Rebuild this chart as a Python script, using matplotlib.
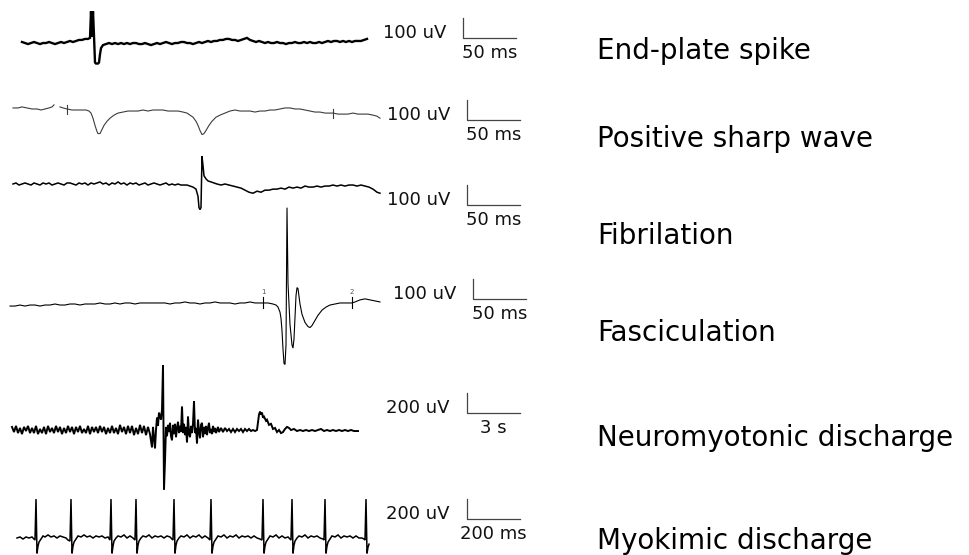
import numpy as np
import matplotlib.pyplot as plt

# sweep samples (1 sample = 1 px of the original sweep) and amplitude in uV

# End-plate spike
endplate_idx = [0, 3, 6, 9, 12, 15, 18, 21, 24, 27, 30, 33, 36, 39, 42, 45, 48, 51, 54, 57, 60, 63, 66, 68,
                69, 70, 71, 72, 73, 74, 76, 77, 78, 79, 81, 84, 87,
                90, 93, 96, 99, 102, 105, 108, 111, 114, 117, 120, 123, 126, 129, 132, 135, 138, 141, 144, 147,
                150, 153, 156, 159, 162, 165, 168, 171, 174, 177, 180, 183, 186, 189, 192, 195, 198, 201, 204, 207,
                210, 213, 216, 219, 222, 225, 228, 231, 234, 237, 240, 243, 246, 249, 252, 255, 258, 261, 264, 267,
                270, 273, 276, 279, 282, 285, 288, 291, 294, 297, 300, 303, 306, 309, 312, 315, 318, 321, 324, 327,
                330, 333, 336, 339, 342, 345]
endplate_uv = [0, -5, -10, -5, 0, -5, -10, -5, -5, 0, -5, -10, -5, 0, -5, 0, 5, 0, 5, 10, 10, 15, 15, 20,
               150, 25, 150, 30, -100, -105, -105, -100, -60, -30, -15, -10, -5,
               -10, -5, -10, -5, -10, -5, -10, -5, -5, -10, -10, -5, -10, -15, -10, -5, -10, -5, 0, -5,
               -10, -5, -5, 0, 0, -5, -5, -10, -5, 0, -5, 0, 5, 0, 5, 5, 10, 10, 15, 15,
               10, 10, 5, 10, 15, 20, 10, 5, 0, 5, 0, -5, 0, -5, -5, 0, -5, -5, -10, -5,
               -5, 0, -5, -5, 0, -5, 0, -5, -5, 0, -5, 0, 5, 0, 5, 5, 0, 5, 0, 5,
               0, 5, 5, 5, 10, 15]

# Positive sharp wave (nan = gap in the sweep)
sharp_idx = [0, 5, 9, 14, 19, 24, 28, 32, 36, 39, 41, 44, 47, 50, 54, 59, 64, 69, 73, 76,
             78, 80, 82, 84, 85, 87, 89, 91, 94, 97, 101, 105, 110, 115, 120, 125, 130, 135, 140, 145,
             150, 155, 160, 165, 170, 174, 177, 180, 183, 185, 187, 189, 191, 193, 196, 199, 203, 207, 212, 217,
             222, 227, 232, 237, 242, 247, 252, 257, 262, 267, 272, 277, 282, 287, 292, 297, 302, 307, 312, 317,
             320, 325, 330, 335, 340, 345, 350, 355, 360, 364, 367]
sharp_uv = [10, 10, 15, 10, 5, 5, 0, 5, 10, 15, 25, np.nan, 15, 10, 5, 0, 0, 0, 0, -5,
            -15, -40, -75, -105, -115, -115, -95, -75, -55, -40, -25, -15, -10, -5, -5, -5, 0, -5, 0, 0,
            0, -5, -5, -5, -10, -15, -25, -35, -55, -75, -100, -120, -115, -100, -75, -55, -35, -25, -15, -5,
            0, -5, -5, -5, -10, -5, -5, 0, 0, 5, 10, 10, 5, 5, 0, -5, -10, -10, -15, -15,
            -15, -20, -20, -20, -15, -20, -20, -20, -25, -30, -40]
sharp_marks = [54, 320]

# Fibrilation
fib_idx = [0, 3, 6, 9, 12, 15, 18, 21, 24, 27, 30, 33, 36, 39, 42, 45, 48, 51, 54, 57,
           60, 63, 66, 69, 72, 75, 78, 81, 84, 87, 90, 93, 96, 99, 102, 105, 108, 111, 114, 117,
           120, 123, 126, 129, 132, 135, 138, 141, 144, 147, 150, 153, 156, 159, 162, 165, 168, 171, 174, 177, 180,
           183, 185, 186, 187, 188, 189, 190, 191, 193, 195, 198, 201, 204,
           208, 212, 216, 220, 224, 228, 232, 236, 240, 244, 248, 252, 256, 260, 264, 268, 272, 276, 280, 284,
           288, 292, 296, 300, 304, 308, 312, 316, 320, 324, 328, 332, 336, 340, 344, 348, 352, 356, 360, 364, 367]
fib_uv = [0, 5, -5, 0, 5, 0, -5, 5, 0, -5, 5, 0, 5, -5, 0, 5, 0, -5, 5, 5,
          0, -5, 5, 0, 5, -5, 5, 0, 5, 10, 0, 5, -5, 5, 0, 10, 0, 5, -5, 5,
          0, 5, -5, 0, 5, -5, 0, 5, 0, -5, 0, 5, -5, 0, -5, 0, -5, -5, -5, -10, -15,
          -25, -60, -115, -125, -115, 135, 90, 40, 25, 15, 10, 5, 0,
          -5, 0, -5, -10, -15, -20, -30, -40, -45, -35, -40, -30, -30, -25, -25, -20, -25, -15, -20, -15,
          -20, -10, -15, -15, -10, -15, -10, -10, -5, -10, -5, -10, -5, -5, -10, -5, -10, -15, -25, -40, -45]

# Fasciculation
fasc_idx = [0, 5, 10, 15, 20, 25, 30, 35, 40, 45, 50, 55, 60, 65, 70, 75, 80, 85, 90, 95,
            100, 105, 110, 115, 120, 125, 130, 135, 140, 145, 150, 155, 160, 165, 170, 175, 180, 185, 190, 195,
            200, 205, 210, 215, 220, 225, 230, 235, 240, 245, 250,
            253, 258, 263, 266, 268, 270, 271, 272, 273, 274, 275, 276, 277, 278, 280, 282, 283, 284, 286, 287,
            288, 290, 292, 295, 298, 300, 302, 305, 308, 312, 316, 320, 325, 330, 335, 340, 342, 345, 350, 355,
            360, 365, 370]
fasc_uv = [-10, -10, -5, -10, -5, -5, -10, -5, -5, 0, -5, -5, 0, 0, -5, 0, 0, 0, 5, 0,
           0, 5, 0, 5, 5, 0, 5, 5, 5, 5, 5, 5, 0, 5, 5, 10, 5, 5, 0, 5,
           5, 10, 5, 5, 5, 0, 5, 5, 10, 5, 5,
           5, 5, 0, -5, -15, -40, -70, -130, -220, -290, -295, -200, 470, 100, -100, -200, -215, -170, 40, 80,
           75, 0, -50, -90, -110, -115, -105, -80, -55, -30, -15, -5, 0, 5, 5, 5, 5, 10, 20, 25,
           20, 15, 10]
fasc_marks = [253, 342]
fasc_mark_labels = ['1', '2']

# Neuromyotonic discharge
neuro_idx = [0, 2, 4, 6, 8, 10, 12, 14, 16, 18, 20, 22, 24, 26, 28, 30, 32, 34, 36, 38,
             40, 42, 44, 46, 48, 50, 52, 54, 56, 58, 60, 62, 64, 66, 68, 70, 72, 74, 76, 78,
             80, 82, 84, 86, 88, 90, 92, 94, 96, 98, 100, 102, 104, 106, 108, 110, 112, 114, 116, 118,
             120, 122, 124, 126, 128, 130, 132, 134, 136, 138,
             140, 141, 143, 144, 145, 146, 147, 149, 150, 151, 152, 153, 154, 155, 156, 157, 158, 159, 160, 161,
             162, 163, 164, 165, 166, 167, 168, 169, 170, 171, 172, 173, 174, 175, 176, 177, 178, 179, 180, 181,
             182, 183, 184, 185, 186, 187, 188, 189, 190, 191, 192, 193, 194, 195, 196, 197, 198, 199, 200, 201,
             202, 203, 204, 206, 207, 209, 211, 213, 215, 217, 219, 221, 223, 225, 227, 229, 231, 233, 235, 237,
             239, 241, 243, 245, 247, 248, 249, 250, 251, 252, 254, 255, 257, 259, 261, 263, 265, 267, 269, 271,
             273, 275, 277, 279, 282, 285, 288, 291, 294, 297, 300, 303, 306, 309, 312, 315, 318, 321, 324, 327,
             330, 333, 336, 339, 342, 346]
neuro_uv = [30, -20, 40, -30, 20, -40, 30, -10, 40, -30, 20, -30, 40, -40, 10, -30, 30, -40, 40, -20,
            20, -30, 40, -20, 30, -40, 20, -30, 40, -20, 30, -40, 30, -20, 40, -30, 10, -30, 40, -40,
            30, -20, 30, -30, 40, -20, 30, -40, 20, -30, 40, -30, 20, -40, 50, -20, 30, -40, 40, -30,
            40, -50, 20, -40, 50, -30, 40, -50, 30, -40,
            -170, 30, -180, 0, 120, 40, 170, 100, 200, 630, -580, -300, 30, -60, 50, -20, 70, -60, -100, 50,
            -40, 60, -70, 20, 80, -30, 40, -20, 230, -30, 60, -50, 30, -120, 130, -40, -70, 40, -30, 60,
            280, -30, 20, -130, 100, -20, -80, 50, 70, -70, 30, -40, 40, -50, 20, 70, -30, 10, -40, 40,
            -20, 20, -30, 30, -20, 20, -20, 20, -10, 10, -20, 10, -20, 10, -10, 10, -20, 10, -10, 10,
            -10, 0, -10, 0, 150, 180, 150, 170, 120, 130, 90, 100, 50, 60, 10, 20, -20, 0, -30, -20,
            10, 30, 20, 0, 10, -10, 0, -10, 0, -10, 0, -10, 0, 10, -10, 0, -10, 0, -10, 0,
            -10, 0, -10, 0, -10, -10]

# Myokimic discharge
myo_idx = [5, 8, 11, 14, 17, 20, 22, 23,
           24, 25, 26, 27, 29, 31, 33, 36, 39, 42, 45, 48, 51, 54, 56, 58,
           59, 60, 61, 62, 64, 66, 69, 72, 75, 78, 81, 84, 87, 90, 93, 96, 98,
           99, 100, 101, 102, 104, 106, 109, 112, 115, 118, 121, 123,
           124, 125, 126, 127, 129, 131, 134, 137, 140, 143, 146, 149, 152, 155, 158, 160, 161,
           162, 163, 164, 165, 167, 169, 172, 175, 178, 181, 184, 187, 190, 193, 196, 198,
           199, 200, 201, 202, 204, 206, 209, 212, 215, 218, 221, 224, 227, 230, 233, 236, 239, 242, 245, 248, 250,
           251, 252, 253, 254, 256, 258, 261, 264, 267, 270, 273, 276, 278, 279,
           280, 281, 282, 283, 285, 287, 290, 293, 296, 299, 302, 305, 308, 311, 312,
           313, 314, 315, 316, 318, 320, 323, 326, 329, 332, 335, 338, 341, 344, 347, 350, 352, 353,
           354, 355, 356, 357]
myo_uv = [0, 10, -10, 10, 0, 10, -10, -20,
          380, -150, -80, -40, -10, 20, 10, 30, 10, 20, 0, 20, 10, 0, -20, -30,
          380, -150, -80, -40, -10, 20, 10, 30, 10, 20, 0, 20, 10, 20, 0, 10, -20,
          380, -150, -80, -30, 0, 20, 10, 30, 0, 20, 0, -20,
          380, -150, -70, -30, 0, 20, 10, 30, 0, 20, 10, 20, 0, 20, 10, -10, -20,
          380, -150, -70, -30, 0, 20, 10, 30, 0, 20, 10, 30, 0, 20, 0, -20,
          380, -150, -80, -40, -10, 20, 10, 30, 0, 20, 10, 30, 0, 20, 10, 20, 0, 20, 0, -10, -20,
          380, -150, -80, -40, -10, 20, 10, 30, 0, 20, 0, 10, -10, -20,
          380, -150, -70, -30, 0, 20, 10, 30, 0, 20, 10, 20, 0, -10, -20,
          380, -150, -80, -40, -10, 20, 10, 30, 0, 20, 10, 20, 0, 20, 0, 0, -10, -20,
          380, -150, -90, -60]

names = ['End-plate spike', 'Positive sharp wave', 'Fibrilation', 'Fasciculation',
         'Neuromyotonic discharge', 'Myokimic discharge']
amp_labels = ['100 uV', '100 uV', '100 uV', '100 uV', '200 uV', '200 uV']
amp_bar = [100, 100, 100, 100, 200, 200]          # uV
time_labels = ['50 ms', '50 ms', '50 ms', '50 ms', '3 s', '200 ms']
time_bar = [50, 50, 50, 50, 3, 200]               # ms, ms, ms, ms, s, ms
sample_dt = [50 / 53, 50 / 53, 50 / 53, 50 / 53, 3 / 53, 200 / 53]

# layout (pixels of a 969x555 canvas)
traces = [endplate_idx, sharp_idx, fib_idx, fasc_idx, neuro_idx, myo_idx]
values = [endplate_uv, sharp_uv, fib_uv, fasc_uv, neuro_uv, myo_uv]
x0 = [22, 13, 13, 10, 12, 12]
y0 = [42, 110, 184, 304, 430, 538]
px_per_uv = [0.205, 0.205, 0.205, 0.205, 0.1025, 0.1025]
styles = [dict(color='black', lw=1.7), dict(color='#3c3c3c', lw=0.8),
          dict(color='black', lw=1.1), dict(color='black', lw=0.8),
          dict(color='black', lw=1.4), dict(color='black', lw=1.1)]
bar_pos = [(463, 38), (467, 120), (467, 205), (473, 299), (467, 413), (467, 519)]
name_base = [59, 147, 244, 341, 446, 549]

fig = plt.figure(figsize=(9.69, 5.55), dpi=100)
ax = fig.add_axes([0, 0, 1, 1])
ax.set_xlim(0, 969)
ax.set_ylim(555, 0)
ax.axis('off')


def to_px(i, idx, uv):
    return x0[i] + np.asarray(idx, float), y0[i] - np.asarray(uv, float) * px_per_uv[i]


for i in range(6):
    xs, ys = to_px(i, traces[i], values[i])
    ax.plot(xs, ys, solid_joinstyle='miter', **styles[i])

# cursor marks on the sharp wave and fasciculation sweeps
ok = ~np.isnan(np.asarray(sharp_uv, float))
for m in sharp_marks:
    v = np.interp(m, np.asarray(sharp_idx)[ok], np.asarray(sharp_uv, float)[ok])
    mx, my = to_px(1, [m], [v])
    ax.plot([mx[0], mx[0]], [my[0] - 4, my[0] + 5], color='#3c3c3c', lw=0.8)
for m, lab in zip(fasc_marks, fasc_mark_labels):
    v = np.interp(m, fasc_idx, fasc_uv)
    mx, my = to_px(3, [m], [v])
    ax.plot([mx[0], mx[0]], [my[0] - 6, my[0] + 5], color='black', lw=0.8)
    ax.text(mx[0], my[0] - 9, lab, fontsize=5, color='#555555', ha='center', va='baseline')

# calibration bars and labels
for i in range(6):
    bx, by = bar_pos[i]
    h = amp_bar[i] * px_per_uv[i]
    L = time_bar[i] / sample_dt[i]
    ax.plot([bx, bx, bx + L], [by - h, by, by], color='#444444', lw=0.9)
    ax.text(bx - 17, by, amp_labels[i], fontsize=13, color='#111111', ha='right', va='baseline')
    ax.text(bx + L / 2, by + 20, time_labels[i], fontsize=13, color='#111111', ha='center', va='baseline')
    ax.text(597, name_base[i], names[i], fontsize=20, color='black', ha='left', va='baseline')

fig.savefig('out.png', dpi=100)
